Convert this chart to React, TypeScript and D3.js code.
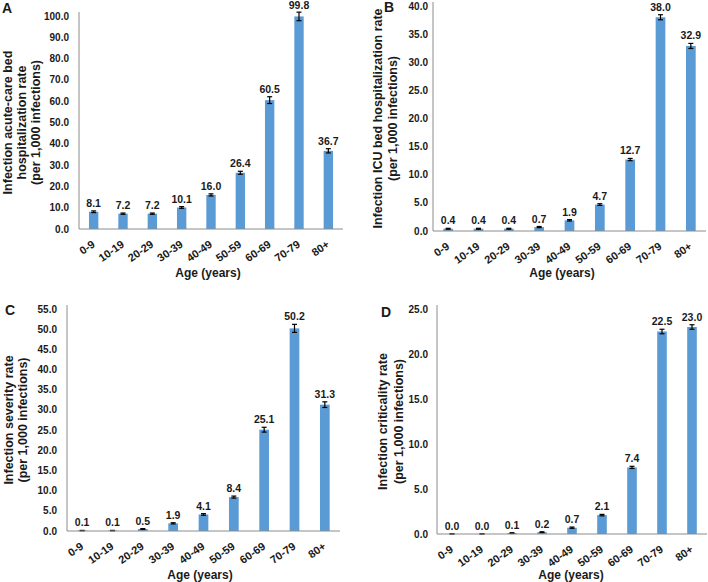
import React from "react";
import * as d3 from "d3";

const ageGroups = ["0-9", "10-19", "20-29", "30-39", "40-49", "50-59", "60-69", "70-79", "80+"];

const acuteRate = [8.1, 7.2, 7.2, 10.1, 16.0, 26.4, 60.5, 99.8, 36.7];
const acuteErr = [0.4, 0.3, 0.3, 0.4, 0.5, 0.7, 1.6, 2.0, 1.0];

const icuRate = [0.4, 0.4, 0.4, 0.7, 1.9, 4.7, 12.7, 38.0, 32.9];
const icuErr = [0.08, 0.08, 0.08, 0.1, 0.12, 0.15, 0.2, 0.45, 0.45];

const severityRate = [0.1, 0.1, 0.5, 1.9, 4.1, 8.4, 25.1, 50.2, 31.3];
const severityErr = [0.05, 0.05, 0.1, 0.15, 0.2, 0.25, 0.6, 1.0, 0.7];

const criticalityRate = [0.0, 0.0, 0.1, 0.2, 0.7, 2.1, 7.4, 22.5, 23.0];
const criticalityErr = [0.03, 0.03, 0.04, 0.05, 0.07, 0.08, 0.12, 0.25, 0.25];

const yTicksA = [0, 10, 20, 30, 40, 50, 60, 70, 80, 90, 100];
const yTicksB = [0, 5, 10, 15, 20, 25, 30, 35, 40];
const yTicksC = [0, 5, 10, 15, 20, 25, 30, 35, 40, 45, 50, 55];
const yTicksD = [0, 5, 10, 15, 20, 25];

const xTitle = "Age (years)";

const FONT = "'Liberation Sans', Arial, Helvetica, sans-serif";
const BAR = "#5b9bd5";
const AXIS = "#8c8c8c";
const TEXT = "#1a1a1a";

type PanelProps = {
  letter: string;
  letterX: number;
  letterY: number;
  values: number[];
  errs: number[];
  ticks: number[];
  titleLines: string[];
  titleXs: number[];
  x0: number;
  x1: number;
  y0: number;
  yTop: number;
  tickLabelX: number;
  xTitleX: number;
  xTitleY: number;
};

function Panel(p: PanelProps) {
  const yMax = p.ticks[p.ticks.length - 1];
  const y = d3.scaleLinear().domain([0, yMax]).range([p.y0, p.yTop]);
  const x = d3.scaleBand<string>().domain(ageGroups).range([p.x0, p.x1]).paddingInner(0.68).paddingOuter(0.34);
  const bw = x.bandwidth();
  const titleCy = (p.y0 + p.yTop) / 2;
  return (
    <g fontFamily={FONT} fill={TEXT} fontWeight="bold">
      <text x={p.letterX} y={p.letterY} fontSize={14}>{p.letter}</text>
      {p.titleLines.map((t, i) => (
        <text key={i} transform={`translate(${p.titleXs[i]},${titleCy}) rotate(-90)`} textAnchor="middle" fontSize={12.5}>{t}</text>
      ))}
      {p.ticks.map((t) => (
        <text key={t} x={p.tickLabelX} y={y(t)} dy="0.35em" textAnchor="end" fontSize={10}>{t.toFixed(1)}</text>
      ))}
      {ageGroups.map((a, i) => {
        const cx = (x(a) as number) + bw / 2;
        const v = p.values[i];
        const e = p.errs[i];
        const yt = y(v);
        const ye1 = y(v + e);
        const ye0 = y(Math.max(0, v - e));
        return (
          <g key={a}>
            <rect x={x(a)} y={yt} width={bw} height={p.y0 - yt} fill={BAR} />
            <line x1={cx} x2={cx} y1={ye1} y2={ye0} stroke="#000" strokeWidth={1.2} />
            <line x1={cx - 2.5} x2={cx + 2.5} y1={ye1} y2={ye1} stroke="#000" strokeWidth={1.2} />
            <line x1={cx - 2.5} x2={cx + 2.5} y1={ye0} y2={ye0} stroke="#000" strokeWidth={1.2} />
            <text x={cx} y={Math.max(9, ye1 - 4)} textAnchor="middle" fontSize={10.5}>{v.toFixed(1)}</text>
            <text transform={`translate(${cx + 2},${p.y0 + 17}) rotate(-35)`} textAnchor="end" fontSize={11}>{a}</text>
          </g>
        );
      })}
      <line x1={p.x0} x2={p.x0} y1={p.yTop - 4} y2={p.y0} stroke={AXIS} strokeWidth={1} />
      <line x1={p.x0} x2={p.x1} y1={p.y0} y2={p.y0} stroke={AXIS} strokeWidth={1} />
      <text x={p.xTitleX} y={p.xTitleY} textAnchor="middle" fontSize={12}>{xTitle}</text>
    </g>
  );
}

export default function App() {
  return (
    <svg width={708} height={582} style={{ position: "absolute", left: 0, top: 0, background: "#fff" }}>
      <Panel letter="A" letterX={2} letterY={13} values={acuteRate} errs={acuteErr} ticks={yTicksA}
        titleLines={["Infection acute-care bed", "hospitalization rate", "(per 1,000 infections)"]}
        titleXs={[12, 26, 40]} x0={79} x1={343} y0={229} yTop={16} tickLabelX={69} xTitleX={208} xTitleY={277} />
      <Panel letter="B" letterX={384} letterY={12} values={icuRate} errs={icuErr} ticks={yTicksB}
        titleLines={["Infection ICU bed hospitalization rate", "(per 1,000 infections)"]}
        titleXs={[382, 397]} x0={433} x1={706} y0={231} yTop={6} tickLabelX={428} xTitleX={562} xTitleY={277} />
      <Panel letter="C" letterX={5} letterY={315} values={severityRate} errs={severityErr} ticks={yTicksC}
        titleLines={["Infection severity rate", "(per 1,000 infections)"]}
        titleXs={[12.5, 27]} x0={67} x1={340} y0={531} yTop={309} tickLabelX={57} xTitleX={200} xTitleY={579} />
      <Panel letter="D" letterX={381} letterY={317} values={criticalityRate} errs={criticalityErr} ticks={yTicksD}
        titleLines={["Infection criticality rate", "(per 1,000 infections)"]}
        titleXs={[387, 403]} x0={437} x1={707} y0={534} yTop={309} tickLabelX={428} xTitleX={571} xTitleY={579} />
    </svg>
  );
}
